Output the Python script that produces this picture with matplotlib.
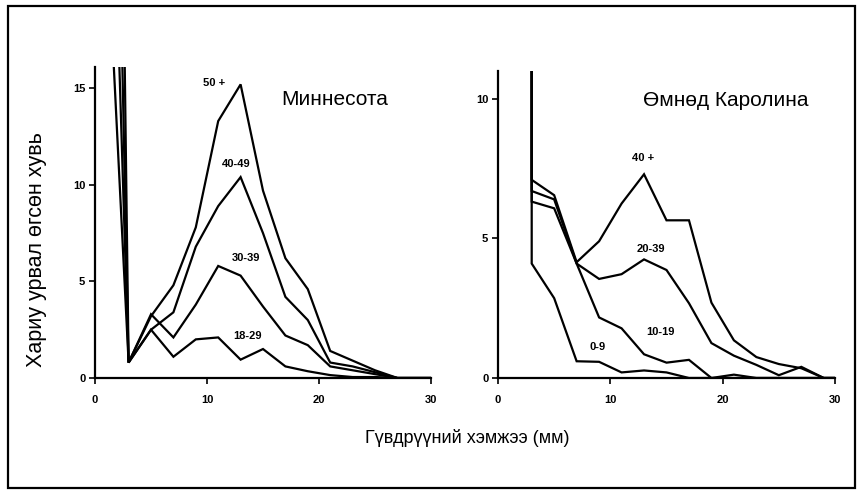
import matplotlib
matplotlib.use("Agg")
import matplotlib.pyplot as plt
from matplotlib.patches import Rectangle

plt.rcParams['font.family'] = ['Liberation Sans', 'DejaVu Sans']

# ---- Minnesota data ----
mn_x = [1, 3, 5, 7, 9, 11, 13, 15, 17, 19, 21, 23, 25, 27, 30]
mn_50 = [24, 0.8, 3.2, 4.8, 7.8, 13.3, 15.2, 9.7, 6.2, 4.6, 1.4, 0.9, 0.4, 0, 0]
mn_40 = [38, 0.8, 2.5, 3.4, 6.8, 8.9, 10.4, 7.5, 4.2, 3.0, 0.8, 0.6, 0.3, 0, 0]
mn_30 = [56, 0.8, 3.3, 2.1, 3.8, 5.8, 5.3, 3.7, 2.2, 1.7, 0.6, 0.4, 0.2, 0, 0]
mn_18 = [90, 0.8, 2.5, 1.1, 2.0, 2.1, 0.95, 1.5, 0.6, 0.35, 0.15, 0.05, 0.05, 0, 0]
mn_series = [mn_50, mn_40, mn_30, mn_18]
mn_labels = ["50 +", "40-49", "30-39", "18-29"]
mn_label_pos = [(10.6, 15.25), (12.6, 11.1), (13.5, 6.2), (13.6, 2.2)]

# ---- South Carolina data ----
sc_x = [3, 3, 5, 7, 9, 11, 13, 15, 17, 19, 21, 23, 25, 27, 29, 30]
sc_40 = [60, 7.1, 6.55, 4.15, 4.9, 6.25, 7.3, 5.65, 5.65, 2.7, 1.35, 0.75, 0.5, 0.35, 0, 0]
sc_20 = [60, 6.7, 6.4, 4.1, 3.55, 3.72, 4.25, 3.87, 2.68, 1.25, 0.8, 0.47, 0.1, 0.4, 0, 0]
sc_10 = [60, 6.32, 6.08, 4.1, 2.17, 1.78, 0.85, 0.55, 0.65, 0, 0.12, 0, 0, 0, 0, 0]
sc_0 = [60, 4.1, 2.86, 0.6, 0.58, 0.2, 0.27, 0.2, 0, 0, 0, 0, 0, 0, 0, 0]
sc_series = [sc_40, sc_20, sc_10, sc_0]
sc_labels = ["40 +", "20-39", "10-19", "0-9"]
sc_label_pos = [(12.95, 7.9), (13.6, 4.62), (14.5, 1.66), (8.85, 1.12)]

W, H = 862, 490
fig = plt.figure(figsize=(W / 100, H / 100), dpi=100)

ax1 = fig.add_axes([95 / W, 112 / H, 336 / W, 311 / H])
ax2 = fig.add_axes([498 / W, 112 / H, 337 / W, 307 / H])


def style(ax, ymax, yticks):
    ax.set_xlim(0, 30)
    ax.set_ylim(0, ymax)
    ax.set_xticks([0, 10, 20, 30])
    ax.set_yticks(yticks)
    for s in ["top", "right"]:
        ax.spines[s].set_visible(False)
    for s in ["left", "bottom"]:
        ax.spines[s].set_linewidth(1.6)
    ax.tick_params(direction="out", length=4, width=1.2, labelsize=8, pad=3)
    for lab in ax.get_xticklabels() + ax.get_yticklabels():
        lab.set_fontweight("bold")
    ax.patch.set_alpha(0)


style(ax1, 16.1, [0, 5, 10, 15])
style(ax2, 11.0, [0, 5, 10])
ax1.tick_params(axis="x", pad=8)
ax2.tick_params(axis="x", pad=8)

for ys in mn_series:
    ax1.plot(mn_x, ys, color="black", lw=1.6, solid_joinstyle="miter")
for lab, (x, y) in zip(mn_labels, mn_label_pos):
    ax1.text(x, y, lab, ha="center", va="center", fontsize=8, fontweight="bold")
ax1.text(21.4, 14.4, "Миннесота", ha="center", va="center", fontsize=15)

for ys in sc_series:
    ax2.plot(sc_x, ys, color="black", lw=1.6, solid_joinstyle="miter")
for lab, (x, y) in zip(sc_labels, sc_label_pos):
    ax2.text(x, y, lab, ha="center", va="center", fontsize=8, fontweight="bold")
ax2.text(20.3, 9.96, "Өмнөд Каролина", ha="center", va="center", fontsize=15)

fig.text(467 / W, 1 - 438 / H, "Гүвдрүүний хэмжээ (мм)", ha="center", va="center", fontsize=13)
fig.text(37 / W, 1 - 250 / H, "Хариу урвал өгсөн хувь", ha="center", va="center",
         rotation=90, fontsize=15.5)

fig.patches.append(Rectangle((8 / W, 2 / H), 847 / W, 482 / H, transform=fig.transFigure,
                             fill=False, edgecolor="black", lw=1.6))

fig.savefig("out.png", dpi=100)
